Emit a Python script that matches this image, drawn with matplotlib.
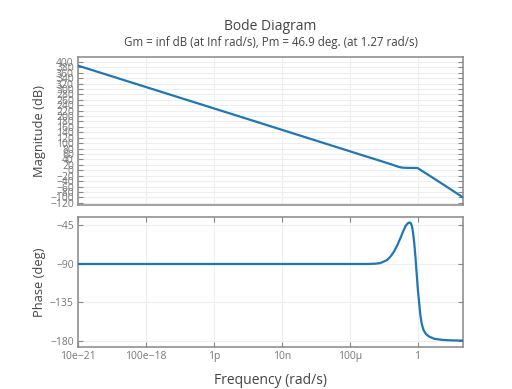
import matplotlib
matplotlib.use("Agg")
import matplotlib.pyplot as plt
import numpy as np

# ---- data (log10 of frequency in rad/s) ----
mag_logw = [-20.0, -10.0, -3.4, -2.0, -1.5, -1.25, -1.1, -1.0, -0.9, -0.75, -0.5, -0.2, 0.0, 0.3, 1.0, 2.0, 2.68]
mag_db   = [386.0, 189.0, 58.6, 31.0, 21.0, 15.5, 12.5, 11.0, 10.0, 9.3, 8.8, 8.6, 8.5, -3.5, -31.5, -72.0, -100.0]

ph_logw = [-20.0, -3.0, -2.5, -2.2, -1.8, -1.6, -1.4, -1.2, -1.0, -0.85, -0.7, -0.6, -0.52, -0.45,
           -0.38, -0.32, -0.26, -0.2, -0.12, -0.05, 0.02, 0.1, 0.17, 0.25, 0.35, 0.5, 0.7, 1.0, 1.5, 2.0, 2.68]
ph_deg  = [-90.0, -90.0, -89.7, -89.0, -85.5, -81.5, -76.0, -68.5, -59.5, -52.0, -45.5, -43.0, -41.8, -41.5,
           -42.8, -46.5, -54.0, -64.0, -82.0, -101.0, -120.0, -136.0, -150.0, -160.0, -167.0, -172.0,
           -175.0, -177.5, -178.8, -179.3, -179.6]

x_ticks = [1e-20, 1e-16, 1e-12, 1e-8, 1e-4, 1.0]
x_ticklabels = ["10e\u221221", "100e\u221218", "1p", "10n", "100\u00b5", "1"]
mag_ticks = list(range(400, -121, -20))
ph_ticks = [-45, -90, -135, -180]

title = "Bode Diagram"
subtitle = "Gm = inf dB (at Inf rad/s), Pm = 46.9 deg. (at 1.27 rad/s)"

# ---- styling ----
plt.rcParams['font.family'] = ['Open Sans', 'DejaVu Sans']
line_color = '#1f77b4'
spine_color = '#888888'
tick_color = '#777777'
text_color = '#444444'
grid_color = '#eeeeee'

W, H = 512, 389
fig = plt.figure(figsize=(W / 100, H / 100), dpi=100)

def fx(px):
    return px / W

def fy(py):
    return 1 - py / H

left, right = 78, 463
ax_m = fig.add_axes([fx(left), fy(205), fx(right - left), (205 - 56.7) / H])
ax_p = fig.add_axes([fx(left), fy(347.3), fx(right - left), (347.3 - 216.5) / H])

w_m = [10.0 ** v for v in mag_logw]
w_p = [10.0 ** v for v in ph_logw]

ax_m.plot(w_m, mag_db, color=line_color, lw=1.6, solid_joinstyle='round', zorder=3)
ax_p.plot(w_p, ph_deg, color=line_color, lw=1.6, solid_joinstyle='round', zorder=3)

xlim = (1e-20, 10 ** 2.68)
for ax in (ax_m, ax_p):
    ax.set_xscale('log')
    ax.set_xlim(*xlim)
    ax.minorticks_off()
    for s in ax.spines.values():
        s.set_color(spine_color)
        s.set_linewidth(1.1)
    ax.grid(True, color=grid_color, lw=0.8, zorder=0)
    ax.set_axisbelow(True)

ax_m.set_ylim(-128, 419)
ax_m.set_yticks(mag_ticks)
ax_m.set_yticklabels([str(t).replace('-', '\u2212') for t in mag_ticks])
ax_m.set_xticks(x_ticks)
ax_m.set_xticklabels([])
ax_m.tick_params(axis='y', direction='in', length=3.5, width=0.8, color=spine_color,
                 labelsize=7.5, labelcolor=tick_color, pad=3, left=True, right=True)
ax_m.tick_params(axis='x', length=0)

ax_p.set_ylim(-187.4, -34.5)
ax_p.set_yticks(ph_ticks)
ax_p.set_yticklabels([str(t).replace('-', '\u2212') for t in ph_ticks])
ax_p.set_xticks(x_ticks)
ax_p.set_xticklabels(x_ticklabels)
ax_p.tick_params(axis='both', direction='in', length=3.5, width=0.8, color=spine_color,
                 labelsize=7.5, labelcolor=tick_color, pad=3)
ax_p.tick_params(axis='y', left=True, right=True)
ax_p.tick_params(axis='x', top=True, bottom=True)

cx = fx((left + right) / 2)
fig.text(cx, fy(26), title, ha='center', va='center', fontsize=10, color=text_color)
fig.text(cx, fy(42.5), subtitle, ha='center', va='center', fontsize=8.3, color=text_color)
fig.text(fx(40), fy(131), "Magnitude (dB)", rotation=90, ha='center', va='center',
         fontsize=9.3, color=text_color)
fig.text(fx(40), fy(282), "Phase (deg)", rotation=90, ha='center', va='center',
         fontsize=9.3, color=text_color)
fig.text(cx, fy(380), "Frequency (rad/s)", ha='center', va='center', fontsize=10, color=text_color)

fig.savefig("out.png", dpi=100)
